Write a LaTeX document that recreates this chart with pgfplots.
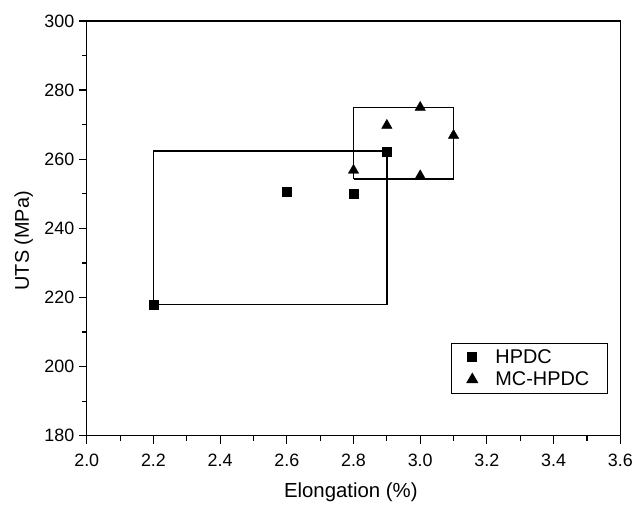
\documentclass[border=0pt]{standalone}
\usepackage{fontspec}
\setmainfont{Liberation Sans}
\usepackage{pgfplots}
\pgfplotsset{compat=1.18}

\newcommand{\tickfont}{\fontsize{18}{20}\selectfont}

\begin{document}
\begin{tikzpicture}
\begin{axis}[
    scale only axis,
    width=535bp, height=416bp,
    xmin=2.0, xmax=3.6, ymin=180, ymax=300,
    xtick={2.0,2.2,...,3.6},
    ytick={180,200,...,300},
    minor x tick num=1, minor y tick num=1,
    tick pos=left, tick align=outside,
    major tick length=8bp, minor tick length=5bp,
    every tick/.style={black, line width=1.2bp},
    axis line style={line width=1.4bp},
    xticklabel={\tickfont\pgfmathprintnumber[fixed,fixed zerofill,precision=1,assume math mode=true]{\tick}},
    yticklabel={\tickfont\pgfmathprintnumber[assume math mode=true]{\tick}},
    xticklabel style={yshift=-7bp},
    yticklabel style={xshift=-1bp},
    xlabel={Elongation (\%)},
    ylabel={UTS (MPa)},
    xlabel style={font=\fontsize{20.5}{22}\selectfont,
        at={(axis description cs:0.495,-0.135)}, anchor=center},
    ylabel style={font=\fontsize{20}{22}\selectfont,
        at={(axis description cs:-0.118,0.47)}, anchor=center},
    legend style={at={(rel axis cs:0.682,0.2236)}, anchor=north west,
        draw=black, line width=1.1bp, font=\fontsize{20}{22}\selectfont,
        inner xsep=16bp, inner ysep=4bp, row sep=3bp,
        /tikz/every odd column/.style={column sep=16bp}},
    legend cell align=left,
    clip=false,
]
% range boxes
\addplot[black, line width=1.3bp, forget plot] coordinates {
    (2.2,218.0) (2.2,262.4) (2.9,262.4) (2.9,218.0) (2.2,218.0)
};
\addplot[black, line width=1.3bp, forget plot] coordinates {
    (2.8,254.3) (2.8,275.0) (3.1,275.0) (3.1,254.3) (2.8,254.3)
};
% HPDC
\addplot[only marks, mark=square*, mark size=4.6bp, black] coordinates {
    (2.2,218.0) (2.6,250.6) (2.8,250.1) (2.9,262.1)
};
\addlegendentry{HPDC}
% MC-HPDC
\addplot[only marks, mark=triangle*, mark size=6bp, black] coordinates {
    (2.8,256.8) (2.9,269.8) (3.0,275.0) (3.0,255.2) (3.1,266.9)
};
\addlegendentry{MC-HPDC}
\coordinate (ll) at (rel axis cs:0,0);
\coordinate (ur) at (rel axis cs:1,1);
\end{axis}
\path (ll) ++(-87bp,-69bp);
\path (ur) ++(14bp,21bp);
\end{tikzpicture}
\end{document}
